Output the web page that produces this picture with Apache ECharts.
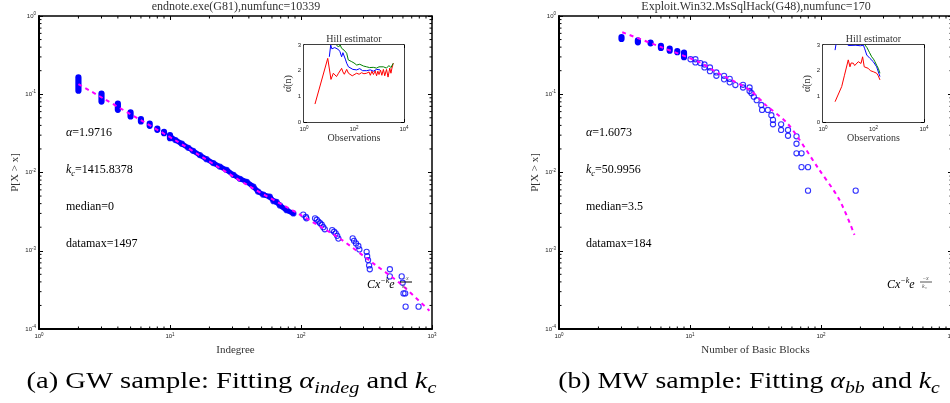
<!DOCTYPE html>
<html>
<head>
<meta charset="utf-8">
<script src="https://cdn.jsdelivr.net/npm/echarts@6/dist/echarts.min.js"></script>
<style>
  html, body { margin: 0; padding: 0; background: #fff; }
  #chart { width: 950px; height: 403px; }
</style>
</head>
<body>
<div id="chart"></div>
<script>
// ---------- Panel (a): endnote.exe (G81), indegree ----------
// tied values form solid columns: [x, lowest P, highest P]
const gwColumns = [
  [2, 0.111, 0.164], [3, 0.0807, 0.102], [4, 0.0633, 0.0762], [5, 0.052, 0.0585],
  [6, 0.0449, 0.048], [7, 0.0395, 0.0423], [8, 0.0351, 0.0365], [9, 0.0318, 0.0331],
  [10, 0.0274, 0.030]
];
// dense run of samples between x = 10 and x = 90
const gwBand = [
  [10, 0.029], [11, 0.026], [12.3, 0.0233], [13.8, 0.0207], [15, 0.0189], [16.9, 0.0167],
  [19, 0.0148], [21.4, 0.0132], [24, 0.0119], [27, 0.0108], [30.5, 0.0093], [34.2, 0.0083],
  [38.5, 0.0076], [43.3, 0.0066], [47, 0.0057], [51.5, 0.0052], [57.7, 0.0049], [61.7, 0.0043],
  [65, 0.0042], [69, 0.0038], [77.7, 0.0033], [87.5, 0.0030]
];
const gwTail = [
  [104, 0.0029], [109, 0.0027], [110, 0.0026], [128, 0.0026], [132, 0.00249], [136, 0.00236],
  [140, 0.00225], [144, 0.00215], [148, 0.0020], [152, 0.00188], [173, 0.00184], [179, 0.00175],
  [184, 0.00167], [189, 0.00155], [193, 0.00143], [248, 0.00144], [254, 0.00134], [263, 0.00124],
  [274, 0.00115], [279, 0.00104], [317, 0.00097], [320, 0.00085], [325, 0.00076], [331, 0.00065],
  [335, 0.00058], [477, 0.00058], [477, 0.00047], [587, 0.00047], [597, 0.00039], [606, 0.000285],
  [624, 0.000285], [629, 0.000193], [790, 0.000193]
];
const gwFit = [
  [2, 0.135], [10.9, 0.026], [16.9, 0.0165], [40.8, 0.0066], [98, 0.0029], [198, 0.00143],
  [356, 0.00069], [569, 0.000384], [956, 0.000171]
];
const gwHillRed = [
  [2.75, 0.70], [8.9, 2.48], [12, 1.66], [14.9, 1.9], [17, 1.85], [20, 1.77], [24, 1.9], [27.5, 1.96],
  [32, 2.09], [36, 1.95], [41, 1.86], [51, 2.05], [60, 1.9], [69, 1.83], [85, 1.8], [100, 1.85],
  [128, 1.9], [160, 1.86], [200, 1.92], [250, 1.88], [320, 1.9], [400, 1.95], [450, 1.82],
  [520, 1.98], [600, 1.85], [700, 2.0], [800, 1.8], [900, 1.98], [1000, 1.85], [1150, 2.02],
  [1300, 1.82], [1500, 2.05], [1700, 1.8], [2000, 2.05], [2300, 1.75], [2700, 2.1], [3000, 1.9],
  [3300, 2.1], [3720, 2.29]
];
const gwHillBlue = [
  [10.3, 2.54], [11.7, 3.0], [13, 2.85], [14.9, 2.8], [17, 2.9], [20, 2.87], [24, 2.82],
  [27.5, 2.74], [32, 2.54], [36, 2.7], [40, 2.68], [45, 2.45], [51, 2.29], [60, 2.15], [69, 2.09],
  [90, 2.05], [128, 2.03], [170, 2.08], [220, 2.0], [320, 2.0], [450, 2.03], [600, 1.98],
  [800, 2.05], [1100, 2.03]
];
const gwHillGreen = [
  [20, 3.0], [24, 2.92], [28, 3.0], [32, 2.87], [40, 2.8], [51, 2.68], [59, 2.42], [70, 2.4],
  [81, 2.35], [100, 2.3], [128, 2.22], [170, 2.25], [240, 2.18], [320, 2.15], [420, 2.12],
  [590, 2.13], [800, 2.1], [1000, 2.15], [1200, 2.08], [1500, 2.15], [2000, 2.1], [2500, 2.2],
  [3000, 2.12], [3720, 2.29]
];

// ---------- Panel (b): Exploit.Win32.MsSqlHack (G48), basic blocks ----------
const mwColumns = [
  [3, 0.508, 0.539], [4, 0.461, 0.488], [5, 0.447, 0.457], [6, 0.39, 0.414],
  [7, 0.361, 0.382], [8, 0.344, 0.357], [9, 0.297, 0.34]
];
const mwPoints = [
  [10.1, 0.28], [11, 0.28], [11, 0.255], [12, 0.25], [12.9, 0.24], [12.9, 0.22], [14.2, 0.22],
  [14.2, 0.197], [15.9, 0.19], [15.9, 0.172], [18.2, 0.172], [18.2, 0.155], [20.1, 0.157],
  [20.1, 0.142], [22.2, 0.131], [25.4, 0.132], [25.4, 0.122], [28.5, 0.122], [28.5, 0.11],
  [29.5, 0.103], [30.7, 0.093], [32.3, 0.084], [35, 0.073], [35.5, 0.063], [39.3, 0.063],
  [41.8, 0.054], [43, 0.047], [43, 0.0413], [49.6, 0.0413], [49.6, 0.035], [56, 0.035],
  [56, 0.0295], [65, 0.029], [65, 0.0233], [65, 0.0176], [71, 0.0176], [71, 0.0117],
  [79.6, 0.0117], [79.6, 0.00586], [184, 0.00586]
];
const mwFit = [
  [3.04, 0.62], [5.9, 0.406], [11.9, 0.255], [15.9, 0.192], [28.5, 0.113], [38.2, 0.072],
  [54.3, 0.044], [66.7, 0.028], [94, 0.0117], [138, 0.0045], [180, 0.0016]
];
const mwHillRed = [
  [3.0, 0.79], [5.5, 1.38], [7, 1.8], [10, 2.42], [11.7, 2.15], [13, 2.3], [15.9, 2.29],
  [18, 2.2], [21.6, 2.22], [25, 2.35], [29, 2.35], [32, 2.28], [37, 2.54], [43, 2.15], [50, 2.1],
  [62, 2.09], [75, 2.0], [98, 1.96], [115, 1.95], [133, 1.9], [155, 1.8], [180, 1.64]
];
const mwHillBlue = [
  [3, 2.8], [3.5, 3.2], [9, 3.1], [10, 2.98], [20, 2.99], [30, 2.97], [40, 2.99], [45, 2.85],
  [54, 2.61], [72, 2.48], [98, 2.35], [133, 2.15], [180, 1.77]
];
const mwHillGreen = [
  [40, 3.1], [46, 3.0], [55, 2.9], [62, 2.8], [70, 2.7], [85, 2.54], [100, 2.45], [114, 2.35],
  [135, 2.2], [155, 2.09], [180, 1.9]
];

// ---------- drawing ----------
const serif = '"Liberation Serif", "DejaVu Serif", serif';
const sans = '"Liberation Sans", "DejaVu Sans", sans-serif';
const BLUE = '#0000ff', MAGENTA = '#ff00ff', RED = '#ff0000', GREEN = '#008000';

const powRich = {
  b: { fontSize: 6, fontFamily: sans, color: '#222', lineHeight: 9 },
  s: { fontSize: 4.5, fontFamily: sans, color: '#222', lineHeight: 5, verticalAlign: 'top' }
};
const powLabel = v => '{b|10}{s|' + Math.round(Math.log10(v)) + '}';
const powLabelEven = v => {
  const e = Math.round(Math.log10(v));
  return e % 2 === 0 ? '{b|10}{s|' + e + '}' : '';
};

const axisLineStyle = w => ({ show: true, onZero: false, lineStyle: { color: '#000', width: w } });
const tickIn = len => ({ show: true, inside: true, length: len, lineStyle: { color: '#000', width: 1 } });

function mainAxes(grid, xName) {
  const xb = {
    type: 'log', logBase: 10, min: 1, max: 1000, gridIndex: grid, position: 'bottom',
    axisLine: axisLineStyle(2), axisTick: tickIn(4), splitLine: { show: false },
    axisLabel: { formatter: powLabel, rich: powRich, margin: 3 },
    name: xName, nameLocation: 'middle', nameGap: 9,
    nameTextStyle: { fontFamily: serif, fontSize: 11, color: '#333' }
  };
  const xt = {
    type: 'log', logBase: 10, min: 1, max: 1000, gridIndex: grid, position: 'top',
    axisLine: axisLineStyle(1.5), axisTick: tickIn(4), axisLabel: { show: false }, splitLine: { show: false }
  };
  const yl = {
    type: 'log', logBase: 10, min: 1e-4, max: 1, gridIndex: grid, position: 'left',
    axisLine: axisLineStyle(2), axisTick: tickIn(4), splitLine: { show: false },
    axisLabel: { formatter: powLabel, rich: powRich, margin: 3 },
    name: 'P[X > x]', nameLocation: 'middle', nameRotate: 90, nameGap: 18,
    nameTextStyle: { fontFamily: serif, fontSize: 11, color: '#333' }
  };
  const yr = {
    type: 'log', logBase: 10, min: 1e-4, max: 1, gridIndex: grid, position: 'right',
    axisLine: axisLineStyle(1.5), axisTick: tickIn(4), axisLabel: { show: false }, splitLine: { show: false }
  };
  return { x: [xb, xt], y: [yl, yr] };
}

function insetAxes(grid) {
  const xb = {
    type: 'log', logBase: 10, min: 1, max: 10000, gridIndex: grid, position: 'bottom',
    axisLine: axisLineStyle(1.5), axisTick: tickIn(3), splitLine: { show: false },
    axisLabel: { formatter: powLabelEven, rich: powRich, margin: 3 },
    name: 'Observations', nameLocation: 'middle', nameGap: 11,
    nameTextStyle: { fontFamily: serif, fontSize: 10, color: '#333' }
  };
  const xt = {
    type: 'log', logBase: 10, min: 1, max: 10000, gridIndex: grid, position: 'top',
    axisLine: axisLineStyle(1.5), axisTick: tickIn(3), axisLabel: { show: false }, splitLine: { show: false }
  };
  const yl = {
    type: 'value', min: 0, max: 3, interval: 1, gridIndex: grid, position: 'left',
    axisLine: axisLineStyle(1.5), axisTick: tickIn(3), splitLine: { show: false },
    axisLabel: { fontSize: 6, fontFamily: sans, color: '#222', margin: 3 },
    name: 'α̂(n)', nameLocation: 'middle', nameRotate: 90, nameGap: 10,
    nameTextStyle: { fontFamily: serif, fontSize: 10, color: '#333' }
  };
  const yr = {
    type: 'value', min: 0, max: 3, interval: 1, gridIndex: grid, position: 'right',
    axisLine: axisLineStyle(1.5), axisTick: tickIn(3), axisLabel: { show: false }, splitLine: { show: false }
  };
  return { x: [xb, xt], y: [yl, yr] };
}

const aL = mainAxes(0, 'Indegree');
const iL = insetAxes(1);
const aR = mainAxes(2, 'Number of Basic Blocks');
const iR = insetAxes(3);
// axis index layout: grid g uses x/y axes 2g (bottom/left) and 2g+1 (top/right)
const xAxes = [...aL.x, ...iL.x, ...aR.x, ...iR.x];
const yAxes = [...aL.y, ...iL.y, ...aR.y, ...iR.y];

// minor ticks at 2..9 x 10^k on all four sides of a main plot
function minorTickSeries(axisIdx) {
  const xs = [], ys = [];
  for (let d = 0; d <= 2; d++) for (let m = 2; m <= 9; m++) xs.push(m * Math.pow(10, d));
  for (let d = -4; d <= -1; d++) for (let m = 2; m <= 9; m++) ys.push(m * Math.pow(10, d));
  return {
    type: 'custom', xAxisIndex: axisIdx, yAxisIndex: axisIdx, data: [[1, 1]], silent: true, z: 5,
    renderItem: (params, api) => {
      const children = [];
      const L = 2.5;
      xs.forEach(v => {
        const b = api.coord([v, 1e-4]), t = api.coord([v, 1]);
        children.push({ type: 'line', shape: { x1: b[0], y1: b[1], x2: b[0], y2: b[1] - L }, style: { stroke: '#000', lineWidth: 1 } });
        children.push({ type: 'line', shape: { x1: t[0], y1: t[1], x2: t[0], y2: t[1] + L }, style: { stroke: '#000', lineWidth: 1 } });
      });
      ys.forEach(v => {
        const l = api.coord([1, v]), r = api.coord([1000, v]);
        children.push({ type: 'line', shape: { x1: l[0], y1: l[1], x2: l[0] + L, y2: l[1] }, style: { stroke: '#000', lineWidth: 1 } });
        children.push({ type: 'line', shape: { x1: r[0], y1: r[1], x2: r[0] - L, y2: r[1] }, style: { stroke: '#000', lineWidth: 1 } });
      });
      return { type: 'group', children };
    }
  };
}

const R = 2.6; // marker radius in px
function columnSeries(axisIdx, data) {
  return {
    type: 'custom', xAxisIndex: axisIdx, yAxisIndex: axisIdx, data, z: 3,
    encode: { x: 0, y: [1, 2] },
    renderItem: (params, api) => {
      const x = api.value(0);
      const top = api.coord([x, api.value(2)]);
      const bot = api.coord([x, api.value(1)]);
      return {
        type: 'rect',
        shape: { x: top[0] - R - 0.5, y: top[1] - R - 0.5, width: 2 * R + 1, height: bot[1] - top[1] + 2 * R + 1, r: R + 0.5 },
        style: { fill: BLUE }
      };
    }
  };
}
function circles(axisIdx, data) {
  return {
    type: 'scatter', xAxisIndex: axisIdx, yAxisIndex: axisIdx, data, z: 3,
    symbol: 'circle', symbolSize: 2 * R,
    itemStyle: { color: 'rgba(0,0,0,0)', borderColor: BLUE, borderWidth: 1.1 }
  };
}
function fitLine(axisIdx, data) {
  return {
    type: 'line', xAxisIndex: axisIdx, yAxisIndex: axisIdx, data, z: 6, smooth: 0.3,
    showSymbol: false, lineStyle: { color: MAGENTA, width: 2, type: [4, 4] }
  };
}
function hill(axisIdx, data, color) {
  return {
    type: 'line', xAxisIndex: axisIdx, yAxisIndex: axisIdx, data, z: 12, clip: true,
    showSymbol: false, lineStyle: { color, width: 1 }
  };
}

const series = [
  minorTickSeries(0),
  columnSeries(0, gwColumns),
  { type: 'line', xAxisIndex: 0, yAxisIndex: 0, data: gwBand, z: 2, showSymbol: false,
    lineStyle: { color: BLUE, width: 5, cap: 'round', join: 'round' } },
  circles(0, gwBand.concat(gwTail)),
  fitLine(0, gwFit),
  hill(2, gwHillRed, RED), hill(2, gwHillBlue, BLUE), hill(2, gwHillGreen, GREEN),
  minorTickSeries(4),
  columnSeries(4, mwColumns),
  circles(4, mwPoints),
  fitLine(4, mwFit),
  hill(6, mwHillRed, RED), hill(6, mwHillBlue, BLUE), hill(6, mwHillGreen, GREEN)
];

// ---------- free text ----------
const annRich = {
  r: { fontSize: 12, fontFamily: serif, lineHeight: 16 },
  m: { fontSize: 12, fontFamily: serif, fontStyle: 'italic', lineHeight: 16 },
  sb: { fontSize: 8.5, fontFamily: serif, fontStyle: 'italic', lineHeight: 8, verticalAlign: 'bottom' }
};
function txt(x, y, text, opts) {
  return {
    type: 'text', x, y, silent: true, z: 10,
    style: Object.assign({ text, align: 'left', verticalAlign: 'middle', textAlign: 'left', textVerticalAlign: 'middle' }, opts)
  };
}
function annotations(x0, alpha, kc, median, datamax) {
  const mg = '#ff44ff', bl = '#4848ff';
  const rich = c => {
    const o = {};
    Object.keys(annRich).forEach(k => { o[k] = Object.assign({ color: c }, annRich[k]); });
    return o;
  };
  return [
    txt(x0, 133, '{m|α}{r|=' + alpha + '}', { rich: rich(mg) }),
    txt(x0, 170, '{m|k}{sb|c}{r|=' + kc + '}', { rich: rich(mg) }),
    txt(x0, 207, '{r|median=' + median + '}', { rich: rich(bl) }),
    txt(x0, 244, '{r|datamax=' + datamax + '}', { rich: rich(bl) })
  ];
}
// C x^{-k} e^{-x/k_c} label
function formula(x0, y0, barColor) {
  const c = '#555';
  return [
    txt(x0, y0, '{m|Cx}{sp|−k}{m|e}', {
      rich: {
        m: { fontSize: 12, fontFamily: serif, fontStyle: 'italic', color: c, lineHeight: 16 },
        sp: { fontSize: 8, fontFamily: serif, fontStyle: 'italic', color: c, lineHeight: 8, verticalAlign: 'top' }
      }
    }),
    txt(x0 + 35, y0 - 7, '−x', { font: 'italic 6px ' + serif, fill: c }),
    { type: 'line', silent: true, z: 10, shape: { x1: x0 + 33, y1: y0 - 3, x2: x0 + 45, y2: y0 - 3 }, style: { stroke: barColor, lineWidth: 1 } },
    txt(x0 + 35, y0 + 1, 'k꜀', { font: 'italic 6px ' + serif, fill: c })
  ];
}
const capRich = {
  r: { fontSize: 24, fontFamily: serif, color: '#222', lineHeight: 30 },
  m: { fontSize: 24, fontFamily: serif, fontStyle: 'italic', color: '#222', lineHeight: 30 },
  sb: { fontSize: 17, fontFamily: serif, fontStyle: 'italic', color: '#222', lineHeight: 14, verticalAlign: 'bottom' }
};
function centered(x, y, text, opts, sx) {
  return {
    type: 'text', x, y, silent: true, z: 10, scaleX: sx || 1,
    style: Object.assign({ text, align: 'center', verticalAlign: 'middle', textAlign: 'center', textVerticalAlign: 'middle' }, opts)
  };
}

const graphic = [
  centered(236, 7, 'endnote.exe(G81),numfunc=10339', { font: '12px ' + serif, fill: '#333' }),
  centered(756, 7, 'Exploit.Win32.MsSqlHack(G48),numfunc=170', { font: '12px ' + serif, fill: '#333' }),
  centered(354, 39, 'Hill estimator', { font: '10px ' + serif, fill: '#333' }),
  centered(873.5, 39, 'Hill estimator', { font: '10px ' + serif, fill: '#333' }),
  ...annotations(66, '1.9716', '1415.8378', '0', '1497'),
  ...annotations(586, '1.6073', '50.9956', '3.5', '184'),
  ...formula(367, 285, '#000'),
  ...formula(887, 285, '#555'),
  centered(231.5, 382, '{r|(a) GW sample: Fitting }{m|α}{sb|indeg}{r| and }{m|k}{sb|c}', { rich: capRich }, 1.19),
  centered(749, 382, '{r|(b) MW sample: Fitting }{m|α}{sb|bb}{r| and }{m|k}{sb|c}', { rich: capRich }, 1.16)
];

const chart = echarts.init(document.getElementById('chart'), null, { renderer: 'canvas', width: 950, height: 403 });
chart.setOption({
  animation: false,
  backgroundColor: '#fff',
  grid: [
    { left: 39, top: 16, width: 393, height: 313, containLabel: false, outerBoundsMode: 'none' },
    { left: 304, top: 45, width: 100, height: 77, show: true, backgroundColor: '#fff', borderWidth: 0, z: 8, outerBoundsMode: 'none' },
    { left: 559, top: 16, width: 393, height: 313, containLabel: false, outerBoundsMode: 'none' },
    { left: 823, top: 45, width: 101, height: 77, show: true, backgroundColor: '#fff', borderWidth: 0, z: 8, outerBoundsMode: 'none' }
  ],
  xAxis: xAxes,
  yAxis: yAxes,
  series,
  graphic
});
</script>
</body>
</html>
